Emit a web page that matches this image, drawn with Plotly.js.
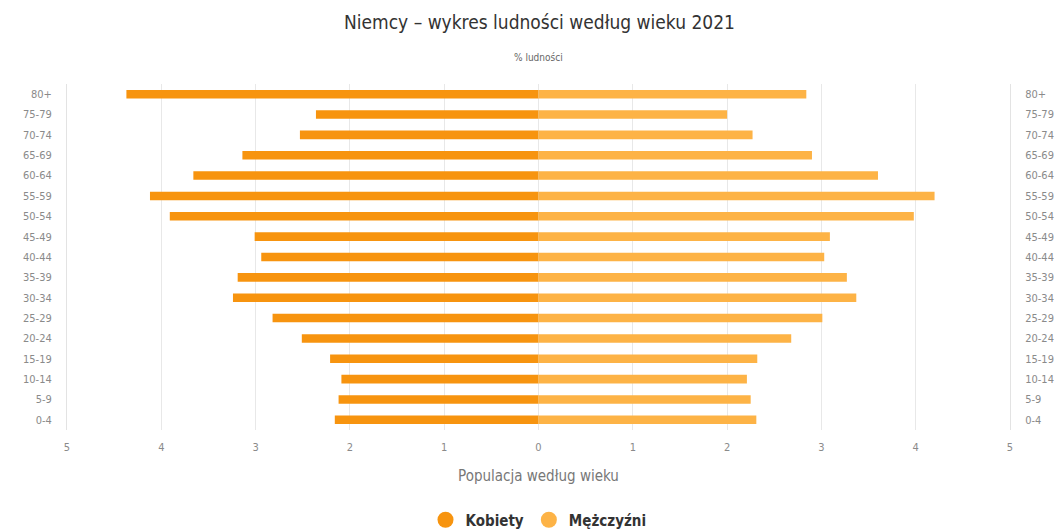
<!DOCTYPE html>
<html>
<head>
<meta charset="utf-8">
<script src="https://cdn.plot.ly/plotly-3.0.1.min.js"></script>
<style>html,body{margin:0;padding:0;background:#fff;}#chart{width:1062px;height:531px;}</style>
</head>
<body>
<div id="chart"></div>
<script>
const ageGroups = ["0-4","5-9","10-14","15-19","20-24","25-29","30-34","35-39","40-44","45-49","50-54","55-59","60-64","65-69","70-74","75-79","80+"];
const women = [2.16,2.12,2.09,2.21,2.51,2.82,3.24,3.19,2.94,3.01,3.91,4.12,3.66,3.14,2.53,2.36,4.37];
const men   = [2.31,2.25,2.21,2.32,2.68,3.01,3.37,3.27,3.03,3.09,3.98,4.20,3.60,2.90,2.27,2.00,2.84];
const xTickVals = [-5,-4,-3,-2,-1,0,1,2,3,4,5];
const xTickText = ["5","4","3","2","1","0","1","2","3","4","5"];
const seriesNames = ["Kobiety","Mężczyźni"];
const colWomen = "#f7940f";
const colMen = "#fdb346";

const fontFam = "'Liberation Sans Narrow', 'DejaVu Sans Condensed', 'Open Sans', sans-serif";

const traces = [
  {type:"bar", orientation:"h", y:ageGroups, x:women.map(v=>-v), yaxis:"y", xaxis:"x",
   marker:{color:colWomen}, width:0.42, showlegend:false, name:seriesNames[0],
   customdata:women, hovertemplate:"%{y}: %{customdata}%<extra></extra>"},
  {type:"bar", orientation:"h", y:ageGroups, x:men, yaxis:"y2", xaxis:"x",
   marker:{color:colMen}, width:0.42, showlegend:false, name:seriesNames[1],
   hovertemplate:"%{y}: %{x}%<extra></extra>"},
  {type:"scatter", mode:"markers", x:[null], y:[null], name:seriesNames[0],
   marker:{color:colWomen, size:16, symbol:"circle"}, showlegend:true},
  {type:"scatter", mode:"markers", x:[null], y:[null], name:seriesNames[1],
   marker:{color:colMen, size:16, symbol:"circle"}, showlegend:true}
];

const yCommon = {
  type:"category", categoryorder:"array", categoryarray:ageGroups,
  range:[-0.5, 16.5], showgrid:false, zeroline:false,
  showline:true, linecolor:"#e3e3e3", linewidth:1,
  ticks:"", tickfont:{family:fontFam, size:11, color:"#8a8a8a"},
  fixedrange:true
};

const layout = {
  width:1062, height:531,
  margin:{l:67, r:52, t:84, b:101},
  paper_bgcolor:"#fff", plot_bgcolor:"#fff",
  barmode:"overlay",
  title:{text:"Niemcy – wykres ludności według wieku 2021",
         font:{family:fontFam, size:19, color:"#333"},
         x:0.508, xanchor:"center", y:1-22/531, yanchor:"middle", yref:"container"},
  xaxis:{range:[-5,5], tickmode:"array", tickvals:xTickVals, ticktext:xTickText,
         showgrid:true, gridcolor:"#e8e8e8", zeroline:false, showline:false,
         ticks:"", ticklabelstandoff:9,
         tickfont:{family:fontFam, size:11, color:"#8a8a8a"},
         title:{text:"Populacja według wieku", standoff:17,
                font:{family:fontFam, size:15, color:"#777"}},
         automargin:false, fixedrange:true},
  yaxis:Object.assign({}, yCommon, {side:"left", ticklabelstandoff:12, automargin:false}),
  yaxis2:Object.assign({}, yCommon, {side:"right", overlaying:"y", ticklabelstandoff:12, automargin:false}),
  showlegend:true,
  legend:{orientation:"h", x:0.5, xanchor:"center", xref:"paper",
          y:1-520/531, yanchor:"middle", yref:"container",
          font:{family:fontFam, size:15, color:"#333", weight:600},
          itemwidth:30, tracegroupgap:0},
  annotations:[{text:"% ludności", xref:"paper", yref:"paper", x:0.5, y:(430-58)/346,
                xanchor:"center", yanchor:"middle", showarrow:false,
                font:{family:fontFam, size:10, color:"#666"}}]
};

Plotly.newPlot("chart", traces, layout, {displayModeBar:false, staticPlot:true});
</script>
</body>
</html>
